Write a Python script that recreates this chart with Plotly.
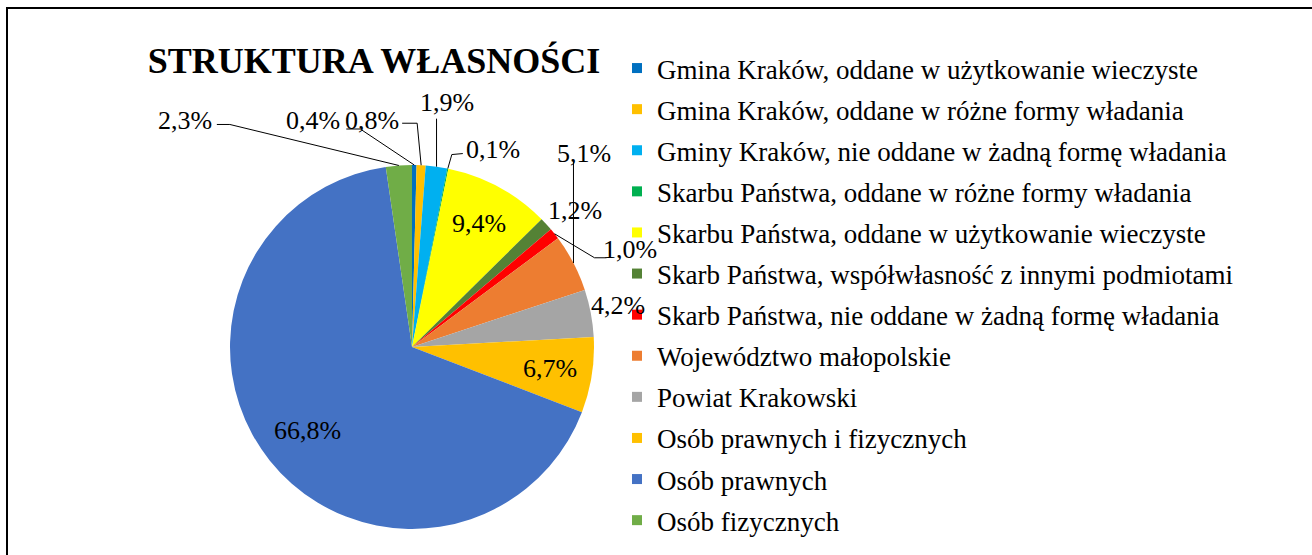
import math
import plotly.graph_objects as go

# ---------------- data ----------------
categories = [
    "Gmina Kraków, oddane w użytkowanie wieczyste",
    "Gmina Kraków, oddane w różne formy władania",
    "Gminy Kraków, nie oddane w żadną formę władania",
    "Skarbu Państwa, oddane w różne formy władania",
    "Skarbu Państwa, oddane w użytkowanie wieczyste",
    "Skarb Państwa, współwłasność z innymi podmiotami",
    "Skarb Państwa, nie oddane w żadną formę władania",
    "Województwo małopolskie",
    "Powiat Krakowski",
    "Osób prawnych i fizycznych",
    "Osób prawnych",
    "Osób fizycznych",
]
shares = [0.4, 0.8, 1.9, 0.1, 9.4, 1.2, 1.0, 5.1, 4.2, 6.7, 66.8, 2.3]
title_text = "STRUKTURA WŁASNOŚCI"

# ---------------- styles ----------------
colors = ["#0070C0", "#FFC000", "#00B0F0", "#00B050", "#FFFF00", "#548235",
          "#FF0000", "#ED7D31", "#A5A5A5", "#FFC000", "#4472C4", "#70AD47"]
# label placement: ("in", radius fraction) or ("out", (dx, dy) from slice edge, leader offsets)
label_style = [
    ("out", (-101, -45), [(-54, -36), (-68, -36)]),
    ("out", (-49, -45), [(-4, -42), (-19, -42)]),
    ("out", (10, -64), [(0, -48)]),
    ("out", (45, -19), [(4, -14), (15, -15)]),
    ("in", 0.77, None),
    ("out", (29, -14), []),
    ("out", (75, 16), [(40, 24), (52, 24)]),
    ("out", (11, -110), [(0, -101)]),
    ("out", (27, -8), []),
    ("in", 0.77, None),
    ("in", 0.735, None),
    ("out", (-214, -45), [(-169, -41), (-182, -41)]),
]

W, H = 1312, 555
CX, CY, R = 412, 347, 182
FONT = "Liberation Serif, Times New Roman, serif"

fig = go.Figure()

fig.add_trace(go.Pie(
    labels=categories, values=shares, sort=False, direction="clockwise",
    rotation=0, marker=dict(colors=colors, line=dict(width=0)),
    textinfo="none", showlegend=False,
    domain=dict(x=[(CX - R) / W, (CX + R) / W], y=[(H - CY - R) / H, (H - CY + R) / H]),
))

# legend entries
for i, (name, col) in enumerate(zip(categories, colors)):
    fig.add_trace(go.Scatter(
        x=[None], y=[None], mode="markers", name=name, legendgroup=str(i),
        marker=dict(symbol="square", size=10, color=col), hoverinfo="skip",
    ))

# labels and leader lines computed from slice angles
total = sum(shares)
cum = 0.0
annotations = []
shapes = []
for v, st in zip(shares, label_style):
    mid = (cum + v / 2) / total * 2 * math.pi
    cum += v
    sx, sy = math.sin(mid), -math.cos(mid)
    txt = f"{v:.1f}".replace(".", ",") + "%"
    if st[0] == "in":
        tx, ty = CX + st[1] * R * sx, CY + st[1] * R * sy
    else:
        ex, ey = CX + R * sx, CY + R * sy
        tx, ty = ex + st[1][0], ey + st[1][1]
        if st[2]:
            pts = [(ex, ey)] + [(ex + dx, ey + dy) for dx, dy in st[2]]
            path = "M " + " L ".join(f"{px:.2f},{py:.2f}" for px, py in pts)
            shapes.append(dict(type="path", xref="x", yref="y", path=path,
                               line=dict(color="black", width=1)))
    annotations.append(dict(x=tx, y=ty, xref="x", yref="y", text=txt, showarrow=False,
                            font=dict(family=FONT, size=26, color="black"),
                            xanchor="center", yanchor="middle"))

# outer border of the chart area
shapes.append(dict(type="rect", xref="paper", yref="paper",
                   x0=7 / W, x1=1.02, y0=-0.02, y1=1 - 8 / H,
                   line=dict(color="black", width=2), fillcolor="rgba(0,0,0,0)"))

fig.update_layout(
    width=W, height=H, margin=dict(l=0, r=0, t=0, b=0),
    paper_bgcolor="white", plot_bgcolor="white",
    xaxis=dict(range=[0, W], visible=False, domain=[0, 1], fixedrange=True),
    yaxis=dict(range=[H, 0], visible=False, domain=[0, 1], fixedrange=True),
    title=dict(text="<b>" + title_text + "</b>", x=374 / W, xanchor="center",
               y=1 - 60 / H, yanchor="middle",
               font=dict(family=FONT, size=36, color="black")),
    legend=dict(x=617 / W, xanchor="left", y=1 - 44 / H, yanchor="top",
                font=dict(family=FONT, size=27, color="black"),
                traceorder="grouped", tracegroupgap=3, itemwidth=30,
                bgcolor="rgba(0,0,0,0)"),
    annotations=annotations, shapes=shapes, showlegend=True,
)

fig.write_html("out.html")
